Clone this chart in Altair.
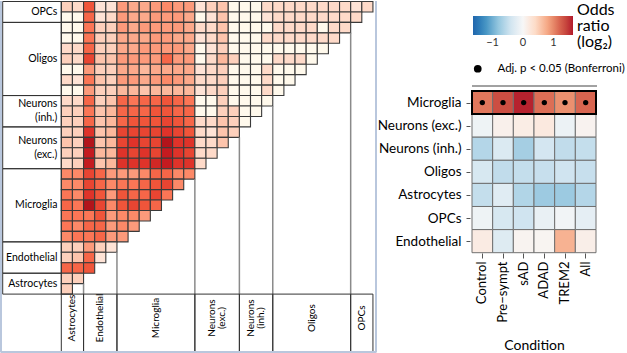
import altair as alt
import pandas as pd

# ---------------- left panel: pairwise enrichment (lower triangle) ----------------
col_groups = ["Astrocytes", "Endothelial", "Microglia", "Neurons\n(exc.)", "Neurons\n(inh.)", "Oligos", "OPCs"]
col_group_sizes = [2, 3, 7, 4, 3, 7, 2]

# rows from top (OPCs) to bottom (Astrocytes); row r holds columns 0 .. 27-r
left_rows = [
    [0.4, 0.3, 1.2, 0.2, 0.2, 0.8, 0.7, 0.7, 0.8, 0.9, 0.8, 0.8, 0.2, 0.4, 0.5, 0, 0, 0, 0.3, 0.3, 0.3, 0.3, 0.3, 0.3, 0.3, 0.3, 0.2, 0.3],
    [0, 0, 1.1, 0.2, 0.3, 0.8, 0.7, 0.7, 0.8, 0.8, 0.8, 0.7, 0, 0.2, 0.5, 0, 0, 0, 0.2, 0.3, 0.3, 0.3, 0.3, 0.3, 0.3, 0.3, 0.3],
    [0, 0, 1.0, 0.4, 0.4, 0.8, 0.7, 0.8, 0.8, 0.8, 0.8, 0.7, 0.3, 0.3, 0.5, 0, 0, 0, 0, 0.3, 0.3, 0.3, 0.3, 0, 0.3, 0.3],
    [0, 0, 1.0, 0.4, 0.4, 0.7, 0.7, 0.7, 0.8, 0.8, 0.7, 0.7, 0.2, 0.3, 0.5, 0, 0, 0, 0.3, 0.3, 0.3, 0.3, 0.3, 0.3, 0.3],
    [0.3, 0.3, 1.1, 0.4, 0.4, 0.7, 0.7, 0.8, 0.8, 0.8, 0.8, 0.7, 0, 0.2, 0.4, 0, 0, 0, 0, 0, 0, 0, 0, 0],
    [0.4, 0.3, 1.3, 0.5, 0.5, 0.8, 0.8, 0.8, 0.8, 1.1, 0.8, 0.8, 0, 0.3, 0.6, 0.4, 0, 0, 0, 0.3, 0.3, 0.3, 0],
    [0, 0, 0.8, 0.4, 0.4, 0.7, 0.7, 0.6, 0.7, 0.7, 0.7, 0.7, 0.2, 0.3, 0.4, 0, 0, 0, 0.3, 0, 0, 0],
    [0.3, 0.2, 1.0, 0.5, 0.4, 0.8, 0.8, 0.7, 0.8, 0.9, 0.8, 0.7, 0.3, 0.3, 0.4, 0, 0, 0, 0.3, 0, 0],
    [0, 0, 0.8, 0.4, 0.4, 0.6, 0.6, 0.5, 0.6, 0.6, 0.6, 0.6, 0.2, 0.3, 0.4, 0, 0, 0, 0.3, 0],
    [0.3, 0.3, 1.1, 0.4, 0.5, 1.1, 1.0, 1.1, 1.1, 1.2, 1.1, 1.0, 0, 0, 0.4, 0, 0, 0, 0],
    [0.4, 0.4, 1.0, 0.5, 0.6, 1.1, 1.1, 1.1, 1.2, 1.2, 1.1, 1.1, 0, 0, 0.4, 0.4, 0, 0],
    [0.4, 0.4, 1.1, 0.5, 0.6, 1.1, 1.2, 1.2, 1.2, 1.3, 1.2, 1.1, 0.3, 0.3, 0.5, 0.4, 0],
    [0.4, 0.4, 1.4, 0.5, 0.6, 1.3, 1.3, 1.3, 1.3, 1.4, 1.3, 1.2, 0.3, 0.2, 0.5, 0.4],
    [0.5, 0.4, 1.7, 0.5, 0.6, 1.3, 1.4, 1.3, 1.3, 1.7, 1.4, 1.4, 0.3, 0.3, 0.5],
    [0.4, 0.4, 1.6, 0.6, 0.6, 1.4, 1.3, 1.4, 1.3, 1.6, 1.4, 1.3, 0.3, 0.3],
    [0.3, 0.4, 1.6, 0.5, 0.6, 1.4, 1.4, 1.4, 1.5, 1.6, 1.4, 1.4, 0.3],
    [0.9, 0.9, 1.3, 1.1, 0.8, 0.8, 0.8, 0.9, 1.1, 1.1, 0.9, 0.9],
    [0.9, 0.9, 1.3, 1.1, 0.9, 1.0, 1.0, 1.1, 1.2, 1.3, 0.9],
    [1.0, 0.9, 1.4, 1.2, 0.8, 1.2, 1.1, 1.1, 1.3, 1.0],
    [1.1, 1.0, 1.7, 1.3, 0.9, 1.2, 1.3, 1.2, 1.1],
    [1.0, 1.0, 1.0, 1.2, 0.8, 0.9, 0.9, 0.8],
    [1.0, 0.9, 1.1, 1.1, 0.8, 0.9, 0.8],
    [0.9, 1.0, 1.0, 1.1, 0.8, 0.8],
    [0.4, 0.4, 0.8, 0.4, 0.2],
    [0.4, 0.5, 1.1, 0.2],
    [1.1, 1.1, 1.2],
    [0.4, 0.4],
    [0.4],
]

left_stops = [0, 0.2, 0.4, 0.6, 0.8, 1.0, 1.2, 1.4, 1.6, 1.8]
left_colors = ["#ffffff", "#fee3d6", "#fdd0bc", "#fcb89c", "#fc9a7b",
               "#fb7656", "#f0553a", "#df332a", "#c41b20", "#a00d16"]

# ---------------- right panel: enrichment per condition ----------------
conditions = ["Control", "Pre\u2212sympt", "sAD", "ADAD", "TREM2", "All"]
cell_types = ["Microglia", "Neurons (exc.)", "Neurons (inh.)", "Oligos", "Astrocytes", "OPCs", "Endothelial"]
odds_log2 = [
    [1.10, 1.35, 1.60, 1.15, 0.95, 1.20],
    [-0.10, 0.10, 0.15, 0.20, -0.12, 0.07],
    [-0.60, -0.30, -0.70, -0.38, -0.52, -0.50],
    [-0.35, -0.52, -0.50, -0.48, -0.42, -0.48],
    [-0.50, -0.25, -0.62, -0.75, -0.76, -0.60],
    [-0.10, -0.35, -0.42, -0.15, -0.06, -0.20],
    [0.17, -0.27, 0.06, 0.05, 0.72, 0.13],
]
significant = [
    [1, 1, 1, 1, 1, 1],
    [0, 0, 0, 0, 0, 0],
    [0, 0, 0, 0, 0, 0],
    [0, 0, 0, 0, 0, 0],
    [0, 0, 0, 0, 0, 0],
    [0, 0, 0, 0, 0, 0],
    [0, 0, 0, 0, 0, 0],
]
sig_label = "Adj. p < 0.05 (Bonferroni)"
rb_stops = [-1.64, -1.23, -0.82, -0.41, 0, 0.41, 0.82, 1.23, 1.64]
rb_colors = ["#2166ac", "#4393c3", "#92c5de", "#d1e5f0", "#f7f7f7",
             "#fddbc7", "#f4a582", "#d6604d", "#b2182b"]

# ---------------- tables ----------------
N = sum(col_group_sizes)
cell_recs = []
for r, vals in enumerate(left_rows):
    for c, v in enumerate(vals):
        cell_recs.append(dict(cx=c, cx2=c + 1, ry=r, ry2=r + 1, lor=v))
cells_df = pd.DataFrame(cell_recs)

ROW_LH = 13.5 / 10.45   # line spacing of row labels, in row units
COL_LH = 10.5 / 11.13   # line spacing of rotated column labels, in column units
grp_recs, row_lines, col_lines = [], [], []
a = 0
for name, size in zip(col_groups, col_group_sizes):
    b = a + size
    grp_recs.append(dict(a=a, b=b, ra=N - b, rb=N - a))
    parts = name.split("\n")
    n = len(parts)
    for k, p in enumerate(parts):
        off = k - (n - 1) / 2
        row_lines.append(dict(text=p, y=N - (a + b) / 2 + off * ROW_LH))
        col_lines.append(dict(text=p, x=(a + b) / 2 + off * COL_LH))
    a = b
grp_df = pd.DataFrame(grp_recs)
row_lines_df = pd.DataFrame(row_lines)
col_lines_df = pd.DataFrame(col_lines)
sep_df = pd.DataFrame([dict(x=g["b"], y0=N + 1 - g["b"], y1=N) for g in grp_recs[:-1]])

# left panel pixel geometry expressed as scale domains (cell units)
W_L, H_L = 377, 352
xs = alt.Scale(domain=[-5.508, 28.365], nice=False, zero=False)
ys = alt.Scale(domain=[-0.048, 33.636], nice=False, zero=False, reverse=True)

cells = alt.Chart(cells_df).mark_rect(stroke="#3a3a3a", strokeWidth=1.1).encode(
    x=alt.X("cx:Q", scale=xs, axis=None), x2="cx2:Q",
    y=alt.Y("ry:Q", scale=ys, axis=None), y2="ry2:Q",
    color=alt.Color("lor:Q", scale=alt.Scale(domain=left_stops, range=left_colors), legend=None),
)
row_boxes = alt.Chart(grp_df).mark_rect(fill="white", fillOpacity=0, stroke="#333333", strokeWidth=1).encode(
    x=alt.XDatum(-5.265, scale=xs, axis=None), x2=alt.X2Datum(0),
    y=alt.Y("ra:Q", scale=ys, axis=None), y2="rb:Q",
)
row_text = alt.Chart(row_lines_df).mark_text(align="right", baseline="middle", fontSize=10.5,
                                             color="black").encode(
    x=alt.XDatum(-0.35, scale=xs, axis=None),
    y=alt.Y("y:Q", scale=ys, axis=None), text="text:N",
)
col_boxes = alt.Chart(grp_df).mark_rect(fill="white", fillOpacity=0, stroke="#333333", strokeWidth=1).encode(
    x=alt.X("a:Q", scale=xs, axis=None), x2="b:Q",
    y=alt.YDatum(28, scale=ys, axis=None), y2=alt.Y2Datum(33.54),
)
col_text = alt.Chart(col_lines_df).mark_text(angle=270, align="center", baseline="middle", fontSize=10,
                                             color="black").encode(
    x=alt.X("x:Q", scale=xs, axis=None),
    y=alt.YDatum(30.29, scale=ys, axis=None), text="text:N",
)
seps = alt.Chart(sep_df).mark_rule(color="#8a8a8a", strokeWidth=1.5).encode(
    x=alt.X("x:Q", scale=xs, axis=None),
    y=alt.Y("y0:Q", scale=ys, axis=None), y2="y1:Q",
)
frame_df = pd.DataFrame([
    dict(x0=-5.418, x1=-5.418, y0=-0.048, y1=33.6),
    dict(x0=28.275, x1=28.275, y0=-0.048, y1=33.6),
    dict(x0=-5.418, x1=28.275, y0=33.54, y1=33.54),
])
frame = alt.Chart(frame_df).mark_rule(color="#b9c7dd", strokeWidth=2).encode(
    x=alt.X("x0:Q", scale=xs, axis=None), x2="x1:Q",
    y=alt.Y("y0:Q", scale=ys, axis=None), y2="y1:Q",
)
left = alt.layer(cells, seps, col_boxes, row_boxes, row_text, col_text, frame).properties(width=W_L, height=H_L)

# right panel
rec = []
for i, ct in enumerate(cell_types):
    for j, cd in enumerate(conditions):
        rec.append(dict(ct=ct, cond=cd, i=i, i1=i + 1, imid=i + 0.5,
                        odds=odds_log2[i][j], sig=sig_label if significant[i][j] else ""))
rdf = pd.DataFrame(rec)

W_R, H_R = 124, 252
xr = alt.Scale(domain=conditions, paddingInner=0, paddingOuter=0)
yr = alt.Scale(domain=[-3.896, 7.013], nice=False, zero=False, reverse=True)
label_expr = "[" + ",".join("'%s'" % c for c in cell_types) + "][floor(datum.value)]"

heat = alt.Chart(rdf).mark_rect(stroke="#707070", strokeWidth=1).encode(
    x=alt.X("cond:N", scale=xr, sort=conditions,
            axis=alt.Axis(labelAngle=-90, title="Condition", titleFontSize=14, titleFontWeight="normal",
                          titleColor="black", labelFontSize=13, labelColor="black", tickSize=5,
                          tickColor="#555555", domain=False, labelPadding=3, titlePadding=16)),
    y=alt.Y("i:Q", scale=yr,
            axis=alt.Axis(values=[k + 0.5 for k in range(len(cell_types))], labelExpr=label_expr,
                          domain=False, grid=False, tickSize=4, offset=2, labelPadding=5,
                          labelFontSize=13.5, labelColor="black", tickColor="#555555", title=None,
                          labelFlush=False, labelOverlap=False)),
    y2="i1:Q",
    color=alt.Color("odds:Q", scale=alt.Scale(domain=rb_stops, range=rb_colors),
                    legend=alt.Legend(orient="none", legendX=1, legendY=15, direction="horizontal",
                                      gradientLength=100, gradientThickness=19, values=[-1, 0, 1],
                                      title=["Odds", "ratio", "(log\u2082)"], titleOrient="right",
                                      titleFontSize=16, titleFontWeight="normal", titleLineHeight=16,
                                      titleColor="black", labelFontSize=11, labelColor="#333333",
                                      titlePadding=4, gradientStrokeWidth=0)),
)
dots = alt.Chart(rdf[rdf["sig"] != ""]).mark_point(filled=True, color="black", opacity=1).encode(
    x=alt.X("cond:N", scale=xr, sort=conditions),
    y=alt.Y("imid:Q", scale=yr),
    size=alt.value(28),
    shape=alt.Shape("sig:N", scale=alt.Scale(domain=[sig_label], range=["circle"]),
                    legend=alt.Legend(orient="none", legendX=0, legendY=62, title=None,
                                      labelFontSize=11.5, labelColor="black", symbolSize=60,
                                      symbolFillColor="black", symbolStrokeColor="black",
                                      labelOffset=14)),
)
box = alt.Chart(pd.DataFrame({"y0": [0], "y1": [1]})).mark_rect(
    fill="white", fillOpacity=0, stroke="black", strokeWidth=2).encode(
    x=alt.value(0), x2=alt.value(W_R), y=alt.Y("y0:Q", scale=yr), y2="y1:Q",
)
top_line = alt.Chart(pd.DataFrame({"y": [-0.216]})).mark_rule(color="#444444", strokeWidth=1).encode(
    x=alt.value(0), x2=alt.value(W_R + 1), y=alt.Y("y:Q", scale=yr),
)
right = alt.layer(heat, box, dots, top_line).properties(width=W_R, height=H_R)

chart = alt.hconcat(left, right, spacing=95, bounds="flush").resolve_scale(
    color="independent", shape="independent"
).properties(padding=0).configure(font="Lato").configure_view(strokeWidth=0)

chart.save("out.html", embed_options={"renderer": "svg", "actions": False})
